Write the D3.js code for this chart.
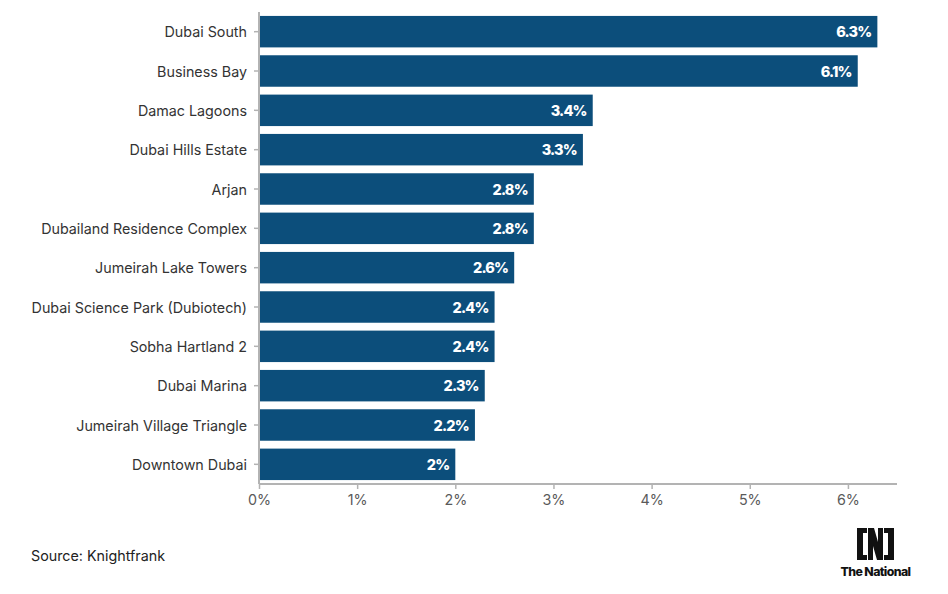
<!DOCTYPE html>
<html>
<head>
<meta charset="utf-8">
<script src="https://cdn.jsdelivr.net/npm/d3@7"></script>
<style>
  html, body { margin: 0; padding: 0; background: #fff; }
  svg { display: block; font-family: Inter, "Noto Sans", sans-serif; }
</style>
</head>
<body>
<svg id="chart" width="948" height="594"></svg>
<script>
const categories = [
  "Dubai South",
  "Business Bay",
  "Damac Lagoons",
  "Dubai Hills Estate",
  "Arjan",
  "Dubailand Residence Complex",
  "Jumeirah Lake Towers",
  "Dubai Science Park (Dubiotech)",
  "Sobha Hartland 2",
  "Dubai Marina",
  "Jumeirah Village Triangle",
  "Downtown Dubai"
];
const values = [6.3, 6.1, 3.4, 3.3, 2.8, 2.8, 2.6, 2.4, 2.4, 2.3, 2.2, 2];
const xTicks = [0, 1, 2, 3, 4, 5, 6];
const sourceText = "Source: Knightfrank";

const svg = d3.select("#chart");
const margin = { left: 259, right: 51, top: 12, bottom: 110 };
const W = 948, H = 594;

const x = d3.scaleLinear().domain([0, 6.5]).range([margin.left, W - margin.right]);
const y = d3.scaleBand().domain(categories).range([margin.top, H - margin.bottom])
  .paddingInner(0.2).paddingOuter(0.1);

const barColor = "#0c4e7b";
const axisColor = "#b3b3b3";

// bars
svg.append("g").selectAll("rect").data(categories).join("rect")
  .attr("x", x(0) + 1)
  .attr("y", d => y(d))
  .attr("width", (d, i) => x(values[i]) - x(0) - 1)
  .attr("height", y.bandwidth())
  .attr("fill", barColor);

// value labels
svg.append("g").selectAll("text").data(categories).join("text")
  .attr("x", (d, i) => x(values[i]) - 6)
  .attr("y", d => y(d) + y.bandwidth() / 2)
  .attr("dy", "0.38em")
  .attr("text-anchor", "end")
  .attr("fill", "#fff")
  .attr("font-size", 14.5)
  .attr("font-weight", 800)
  .attr("letter-spacing", "-0.8px")
  .text((d, i) => values[i] + "%");

// y axis
const yAxis = svg.append("g")
  .attr("transform", `translate(${x(0)},0)`)
  .call(d3.axisLeft(y).tickSize(5).tickPadding(7));
yAxis.select(".domain").attr("stroke", axisColor).attr("stroke-width", 2)
  .attr("d", `M0,${margin.top}V${H - margin.bottom}`);
yAxis.selectAll(".tick line").attr("stroke", axisColor).attr("stroke-width", 1.5);
yAxis.selectAll(".tick text").attr("fill", "#333").attr("font-size", 14.3)
  .attr("dy", "0.4em")
  .attr("font-family", "Inter, 'Noto Sans', sans-serif");

// x axis
const xAxis = svg.append("g")
  .attr("transform", `translate(0,${H - margin.bottom})`)
  .call(d3.axisBottom(x).tickValues(xTicks).tickSize(5).tickPadding(6).tickFormat(d => d + "%"));
xAxis.select(".domain").attr("stroke", axisColor).attr("stroke-width", 2)
  .attr("d", `M${x(0)},0H${W - margin.right}`);
xAxis.selectAll(".tick line").attr("stroke", axisColor).attr("stroke-width", 1.5);
xAxis.selectAll(".tick text").attr("fill", "#5a5a5a").attr("font-size", 14.3)
  .attr("font-family", "Inter, 'Noto Sans', sans-serif");

// source
svg.append("text")
  .attr("x", 31).attr("y", 561)
  .attr("fill", "#222").attr("font-size", 14.3)
  .text(sourceText);

// logo
const logo = svg.append("g").attr("transform", "translate(857,528)");
// left bracket
logo.append("path").attr("fill", "#111")
  .attr("d", "M0,0H10V5H6V27H10V32H0Z");
// right bracket
logo.append("path").attr("fill", "#111")
  .attr("d", "M37,0H27V5H31V27H27V32H37Z");
// N
logo.append("path").attr("fill", "#111")
  .attr("d", "M11,0H17L21,14V0H26V32H20L16,18V32H11Z");
logo.append("text")
  .attr("x", 18.5).attr("y", 48)
  .attr("text-anchor", "middle")
  .attr("font-size", 12.3).attr("font-weight", 800)
  .attr("letter-spacing", "-0.6px")
  .attr("fill", "#111")
  .text("The National");
</script>
</body>
</html>
